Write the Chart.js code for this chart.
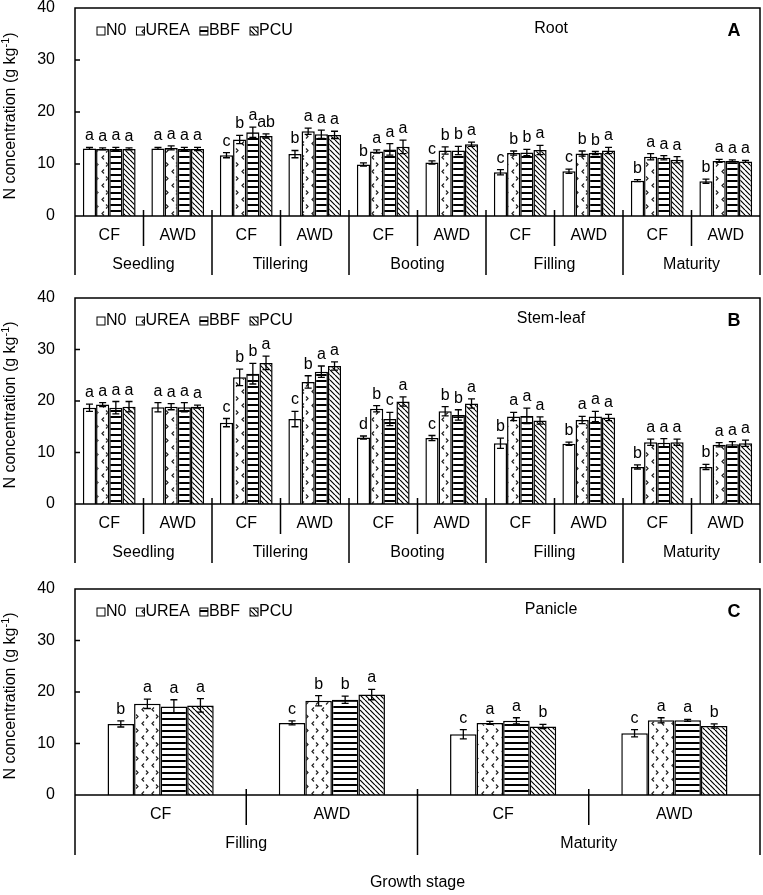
<!DOCTYPE html>
<html>
<head>
<meta charset="utf-8">
<script src="https://cdn.jsdelivr.net/npm/chart.js@4.4.1/dist/chart.umd.min.js"></script>
<style>
  body { margin: 0; background: #fff; }
  canvas { position: absolute; left: 0; }
</style>
</head>
<body>
<canvas id="root-chart" width="763" height="290" style="top:0px"></canvas>
<canvas id="stem-chart" width="763" height="290" style="top:290px"></canvas>
<canvas id="panicle-chart" width="763" height="315" style="top:580px"></canvas>
<script>
const FONT = "'Liberation Sans', Arial, sans-serif";

const treatments = ["N0", "UREA", "BBF", "PCU"];
const regimes = ["CF", "AWD"];
const stagesAB = ["Seedling", "Tillering", "Booting", "Filling", "Maturity"];
const stagesC = ["Filling", "Maturity"];

// A - root
const rootN0 = [13.0, 13.0, 11.7, 11.9, 9.9, 10.3, 8.4, 8.6, 6.8, 6.7];
const rootN0Err = [0.2, 0.2, 0.5, 0.7, 0.3, 0.3, 0.5, 0.4, 0.2, 0.4];
const rootN0Sig = ["a", "a", "c", "b", "b", "c", "c", "c", "b", "b"];
const rootUREA = [12.9, 13.1, 14.7, 16.3, 12.4, 12.6, 12.1, 12.0, 11.4, 10.6];
const rootUREAErr = [0.2, 0.4, 0.8, 0.6, 0.3, 0.7, 0.4, 0.5, 0.6, 0.3];
const rootUREASig = ["a", "a", "b", "a", "a", "b", "b", "b", "a", "a"];
const rootBBF = [12.9, 12.9, 16.1, 15.7, 12.8, 12.6, 12.2, 12.1, 11.2, 10.6];
const rootBBFErr = [0.3, 0.3, 1.0, 0.8, 1.1, 0.8, 0.6, 0.3, 0.4, 0.2];
const rootBBFSig = ["a", "a", "a", "a", "a", "b", "b", "b", "a", "a"];
const rootPCU = [12.9, 12.9, 15.4, 15.6, 13.3, 13.8, 12.7, 12.6, 10.8, 10.5];
const rootPCUErr = [0.2, 0.3, 0.4, 0.7, 1.3, 0.4, 0.9, 0.6, 0.6, 0.2];
const rootPCUSig = ["a", "a", "ab", "a", "a", "a", "a", "a", "a", "a"];

// B - stem-leaf
const stemN0 = [18.7, 18.8, 15.8, 16.5, 12.9, 12.8, 11.8, 11.7, 7.2, 7.2];
const stemN0Err = [0.7, 0.9, 0.8, 1.5, 0.3, 0.5, 1.0, 0.3, 0.4, 0.5];
const stemN0Sig = ["a", "a", "c", "c", "d", "c", "b", "b", "b", "b"];
const stemUREA = [19.3, 18.9, 24.6, 23.7, 18.5, 18.0, 17.0, 16.3, 12.0, 11.5];
const stemUREAErr = [0.4, 0.6, 1.6, 1.2, 0.6, 0.9, 0.8, 0.7, 0.6, 0.4];
const stemUREASig = ["a", "a", "b", "b", "b", "b", "a", "a", "a", "a"];
const stemBBF = [18.7, 18.8, 25.3, 25.7, 16.5, 17.3, 17.1, 17.0, 11.9, 11.6];
const stemBBFErr = [1.2, 0.9, 2.0, 1.1, 1.3, 1.0, 1.5, 1.0, 0.8, 0.5];
const stemBBFSig = ["a", "a", "b", "a", "c", "b", "a", "a", "a", "a"];
const stemPCU = [18.9, 18.9, 27.4, 26.8, 19.9, 19.5, 16.2, 16.8, 12.0, 11.8];
const stemPCUErr = [1.0, 0.3, 1.3, 0.8, 0.9, 0.9, 0.7, 0.6, 0.6, 0.6];
const stemPCUSig = ["a", "a", "a", "a", "a", "a", "a", "a", "a", "a"];

// C - panicle
const panN0 = [13.8, 14.0, 11.8, 12.0];
const panN0Err = [0.6, 0.4, 0.9, 0.7];
const panN0Sig = ["b", "c", "c", "c"];
const panUREA = [17.7, 18.3, 14.0, 14.5];
const panUREAErr = [0.9, 1.0, 0.3, 0.5];
const panUREASig = ["a", "b", "a", "a"];
const panBBF = [17.2, 18.5, 14.4, 14.5];
const panBBFErr = [1.3, 0.7, 0.6, 0.2];
const panBBFSig = ["a", "b", "a", "a"];
const panPCU = [17.4, 19.5, 13.3, 13.4];
const panPCUErr = [1.3, 1.0, 0.4, 0.4];
const panPCUSig = ["a", "a", "b", "b"];

const makePattern = (w, h, draw) => {
  const c = document.createElement("canvas");
  c.width = w;
  c.height = h;
  const g = c.getContext("2d");
  g.fillStyle = "#fff";
  g.fillRect(0, 0, w, h);
  g.strokeStyle = "#000";
  g.fillStyle = "#000";
  draw(g);
  return g.createPattern(c, "repeat");
};

const patterns = [
  "#fff",
  makePattern(10, 14, (g) => {
    g.strokeStyle = "#222";
    g.lineWidth = 1.2;
    g.beginPath();
    g.moveTo(4, 1.5); g.lineTo(2, 3.5); g.lineTo(4, 5.5);
    g.moveTo(6, 8.5); g.lineTo(8, 10.5); g.lineTo(6, 12.5);
    g.stroke();
  }),
  makePattern(4, 6, (g) => g.fillRect(0, 0, 4, 2)),
  makePattern(5, 5, (g) => {
    g.lineWidth = 1.2;
    g.beginPath();
    for (const k of [-5, 0, 5]) {
      g.moveTo(k, 0);
      g.lineTo(k + 5, 5);
    }
    g.stroke();
  }),
];

const makeDecor = (cfg) => ({
  id: "decor",
  afterDatasetsDraw(chart) {
    const ctx = chart.ctx;
    const y = chart.scales.y;
    ctx.save();
    ctx.strokeStyle = "#000";
    ctx.fillStyle = "#000";
    ctx.lineWidth = 1.3;
    ctx.font = "16px " + FONT;
    ctx.textAlign = "center";
    ctx.textBaseline = "alphabetic";
    chart.data.datasets.forEach((ds, i) => {
      chart.getDatasetMeta(i).data.forEach((bar, j) => {
        const hi = y.getPixelForValue(ds.data[j] + ds.errors[j]);
        const lo = y.getPixelForValue(ds.data[j] - ds.errors[j]);
        ctx.beginPath();
        ctx.moveTo(bar.x, hi); ctx.lineTo(bar.x, lo);
        ctx.moveTo(bar.x - 3.5, hi); ctx.lineTo(bar.x + 3.5, hi);
        ctx.moveTo(bar.x - 3.5, lo); ctx.lineTo(bar.x + 3.5, lo);
        ctx.stroke();
        ctx.fillText(ds.sig[j], bar.x, hi - 7);
      });
    });
    ctx.restore();
  },
  afterDraw(chart) {
    const ctx = chart.ctx;
    const { left, right, top, bottom } = chart.chartArea;
    const x = chart.scales.x;
    const y = chart.scales.y;
    const n = chart.data.labels.length;
    const low = bottom + cfg.band;
    ctx.save();
    ctx.strokeStyle = "#000";
    ctx.fillStyle = "#000";
    ctx.lineWidth = 1.5;
    ctx.beginPath();
    ctx.moveTo(left, low); ctx.lineTo(left, top); ctx.lineTo(right, top); ctx.lineTo(right, low);
    ctx.moveTo(left, bottom); ctx.lineTo(right, bottom);
    y.ticks.forEach((t) => {
      if (t.value > 0 && t.value < 40) {
        const py = y.getPixelForValue(t.value);
        ctx.moveTo(left, py); ctx.lineTo(left + 5, py);
      }
    });
    for (let i = 0; i < n - 1; i++) {
      const xb = (x.getPixelForValue(i) + x.getPixelForValue(i + 1)) / 2;
      ctx.moveTo(xb, bottom - 6);
      ctx.lineTo(xb, i % 2 === 0 ? bottom + 30 : low);
    }
    ctx.stroke();

    ctx.font = "16px " + FONT;
    ctx.textBaseline = "middle";

    // y tick labels
    ctx.textAlign = "right";
    y.ticks.forEach((t) => {
      ctx.fillText(String(t.value), left - 20, y.getPixelForValue(t.value));
    });

    ctx.textAlign = "center";
    for (let i = 0; i < n; i++) {
      ctx.fillText(regimes[i % 2], x.getPixelForValue(i), bottom + 20);
    }
    cfg.stages.forEach((s, k) => {
      const cx = (x.getPixelForValue(2 * k) + x.getPixelForValue(2 * k + 1)) / 2;
      ctx.fillText(s, cx, bottom + 49);
    });

    // panel title and tag
    ctx.fillText(cfg.title, left + 0.695 * (right - left), top + 21);
    ctx.font = "bold 18px " + FONT;
    ctx.fillText(cfg.tag, right - 26, top + 23);

    // legend
    ctx.font = "16px " + FONT;
    ctx.textAlign = "left";
    ctx.lineWidth = 1;
    let lx = left + 22;
    const ly = top + 23;
    treatments.forEach((t, i) => {
      ctx.fillStyle = chart.data.datasets[i].backgroundColor;
      ctx.fillRect(lx, ly - 4, 8, 8);
      ctx.strokeRect(lx, ly - 4, 8, 8);
      ctx.fillStyle = "#000";
      ctx.fillText(t, lx + 9, ly);
      lx += 9 + ctx.measureText(t).width + 10;
    });

    // y axis title with superscript
    ctx.translate(11, (top + bottom) / 2 + 4);
    ctx.rotate(-Math.PI / 2);
    const main = "N concentration (g kg";
    const w1 = ctx.measureText(main).width;
    ctx.font = "11px " + FONT;
    const w2 = ctx.measureText("-1").width;
    ctx.font = "16px " + FONT;
    const w3 = ctx.measureText(")").width;
    const sx = -(w1 + w2 + w3) / 2;
    ctx.fillText(main, sx, 0);
    ctx.font = "11px " + FONT;
    ctx.fillText("-1", sx + w1, -5);
    ctx.font = "16px " + FONT;
    ctx.fillText(")", sx + w1 + w2, 0);
    ctx.restore();

    if (cfg.xTitle) {
      ctx.save();
      ctx.font = "16px " + FONT;
      ctx.fillStyle = "#000";
      ctx.textAlign = "center";
      ctx.textBaseline = "middle";
      ctx.fillText(cfg.xTitle, (left + right) / 2, bottom + 88);
      ctx.restore();
    }
  },
});

const buildChart = (id, labels, values, errors, sigs, cfg) => new Chart(id, {
  type: "bar",
  data: {
    labels: labels,
    datasets: values.map((v, i) => ({
      label: treatments[i],
      data: v,
      errors: errors[i],
      sig: sigs[i],
      backgroundColor: patterns[i],
      borderColor: "#000",
      borderWidth: 1.5,
      categoryPercentage: cfg.catPct,
      barPercentage: 1,
    })),
  },
  options: {
    responsive: false,
    animation: false,
    events: [],
    layout: {
      padding: { left: 0, right: 3, top: cfg.padTop, bottom: cfg.padBottom },
    },
    plugins: {
      legend: { display: false },
      tooltip: { enabled: false },
    },
    scales: {
      x: { display: false },
      y: {
        min: 0,
        max: 40,
        ticks: { stepSize: 10, display: false },
        grid: { display: false, drawTicks: false },
        border: { display: false },
        afterFit: (scale) => { scale.width = 75; },
      },
    },
  },
  plugins: [makeDecor(cfg)],
});

const labelsAB = stagesAB.flatMap((s) => regimes.map((r) => s + " " + r));
const labelsC = stagesC.flatMap((s) => regimes.map((r) => s + " " + r));

buildChart("root-chart", labelsAB,
  [rootN0, rootUREA, rootBBF, rootPCU],
  [rootN0Err, rootUREAErr, rootBBFErr, rootPCUErr],
  [rootN0Sig, rootUREASig, rootBBFSig, rootPCUSig],
  { stages: stagesAB, title: "Root", tag: "A", band: 59, catPct: 0.77, padTop: 8, padBottom: 74 });

buildChart("stem-chart", labelsAB,
  [stemN0, stemUREA, stemBBF, stemPCU],
  [stemN0Err, stemUREAErr, stemBBFErr, stemPCUErr],
  [stemN0Sig, stemUREASig, stemBBFSig, stemPCUSig],
  { stages: stagesAB, title: "Stem-leaf", tag: "B", band: 59, catPct: 0.77, padTop: 8, padBottom: 76 });

buildChart("panicle-chart", labelsC,
  [panN0, panUREA, panBBF, panPCU],
  [panN0Err, panUREAErr, panBBFErr, panPCUErr],
  [panN0Sig, panUREASig, panBBFSig, panPCUSig],
  { stages: stagesC, title: "Panicle", tag: "C", band: 60, catPct: 0.62, padTop: 9, padBottom: 100, xTitle: "Growth stage" });
</script>
</body>
</html>
